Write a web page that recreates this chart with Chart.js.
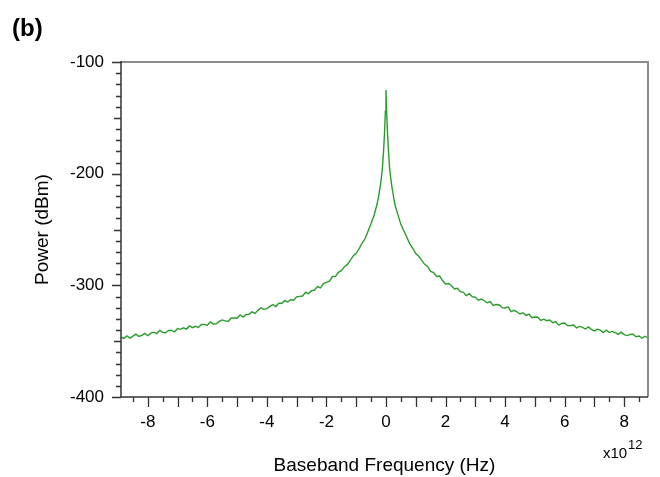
<!DOCTYPE html>
<html>
<head>
<meta charset="utf-8">
<script src="https://cdn.jsdelivr.net/npm/chart.js@4"></script>
<style>
  html, body { margin: 0; padding: 0; background: #fff; }
  #wrap { width: 660px; height: 477px; }
</style>
</head>
<body>
<div id="wrap"><canvas id="spectrum" width="660" height="477"></canvas></div>
<script>
// baseband frequency in units of 1e12 Hz
var freqLeft = [-8.9, -8.8, -8.7, -8.6, -8.5, -8.4, -8.3, -8.2, -8.1, -8.0,
  -7.9, -7.8, -7.7, -7.6, -7.5, -7.4, -7.3, -7.2, -7.1, -7.0,
  -6.9, -6.8, -6.7, -6.6, -6.5, -6.4, -6.3, -6.2, -6.1, -6.0,
  -5.9, -5.8, -5.7, -5.6, -5.5, -5.4, -5.3, -5.2, -5.1, -5.0,
  -4.9, -4.8, -4.7, -4.6, -4.5, -4.4, -4.3, -4.2, -4.1, -4.0,
  -3.9, -3.8, -3.7, -3.6, -3.5, -3.4, -3.3, -3.2, -3.1, -3.0,
  -2.9, -2.8, -2.7, -2.6, -2.5, -2.4, -2.3, -2.2, -2.1, -2.0,
  -1.9, -1.8, -1.7, -1.6, -1.5, -1.4, -1.3, -1.2, -1.1, -1.0,
  -0.9, -0.8, -0.7, -0.6, -0.5, -0.4, -0.3];
var powerLeft = [-346.5, -347.5, -345.2, -347.2, -345.5, -343.7, -345.8, -344.8, -343.1, -345.1,
  -342.8, -342.0, -343.2, -340.3, -342.1, -342.5, -340.3, -340.4, -341.6, -338.6,
  -339.4, -338.1, -339.2, -336.4, -337.9, -336.7, -337.8, -335.1, -335.1, -335.8,
  -332.8, -334.6, -334.4, -332.3, -331.0, -331.8, -332.4, -329.3, -329.2, -329.4,
  -326.5, -328.4, -326.1, -325.9, -323.8, -325.2, -322.4, -320.1, -321.5, -320.9,
  -318.9, -317.3, -319.0, -316.1, -316.0, -313.7, -314.9, -312.7, -313.4, -310.3,
  -309.9, -309.6, -306.2, -307.5, -304.8, -304.2, -301.1, -302.3, -298.4, -297.4,
  -296.2, -292.1, -292.2, -288.4, -286.8, -283.5, -281.5, -277.7, -273.7, -271.3,
  -267.1, -262.1, -258.1, -251.3, -244.7, -237.2, -227.4];

var freqPeak = [-0.25, -0.2, -0.16, -0.12, -0.08, -0.05, -0.02, 0, 0.02, 0.05, 0.08, 0.12, 0.16, 0.2, 0.25];
var powerPeak = [-220.5, -212.5, -205, -195, -179, -164, -144, -125, -143, -163, -178, -194.5, -204.5, -212, -220];

var freqRight = [0.3, 0.4, 0.5, 0.6, 0.7, 0.8, 0.9, 1.0,
  1.1, 1.2, 1.3, 1.4, 1.5, 1.6, 1.7, 1.8, 1.9, 2.0,
  2.1, 2.2, 2.3, 2.4, 2.5, 2.6, 2.7, 2.8, 2.9, 3.0,
  3.1, 3.2, 3.3, 3.4, 3.5, 3.6, 3.7, 3.8, 3.9, 4.0,
  4.1, 4.2, 4.3, 4.4, 4.5, 4.6, 4.7, 4.8, 4.9, 5.0,
  5.1, 5.2, 5.3, 5.4, 5.5, 5.6, 5.7, 5.8, 5.9, 6.0,
  6.1, 6.2, 6.3, 6.4, 6.5, 6.6, 6.7, 6.8, 6.9, 7.0,
  7.1, 7.2, 7.3, 7.4, 7.5, 7.6, 7.7, 7.8, 7.9, 8.0,
  8.1, 8.2, 8.3, 8.4, 8.5, 8.6, 8.7, 8.8];
var powerRight = [-227.6, -236.7, -245.4, -251.4, -257.0, -262.8, -266.9, -271.6,
  -274.0, -277.7, -281.2, -283.3, -287.5, -288.6, -292.0, -291.7, -295.7, -298.8,
  -298.4, -300.3, -303.2, -302.6, -305.7, -306.3, -309.2, -307.4, -310.2, -310.5,
  -313.3, -312.3, -313.8, -315.6, -314.5, -318.0, -317.2, -317.4, -320.0, -320.3,
  -319.3, -323.5, -322.4, -323.7, -325.7, -324.6, -326.9, -325.8, -329.0, -328.4,
  -328.6, -331.4, -330.3, -331.7, -331.0, -333.5, -332.5, -335.6, -334.1, -333.7,
  -336.0, -336.1, -335.5, -338.2, -336.8, -337.6, -339.1, -337.2, -339.5, -340.8,
  -339.4, -340.1, -342.3, -340.2, -342.3, -341.3, -342.4, -343.9, -341.9, -344.1,
  -345.0, -344.0, -343.7, -346.0, -345.4, -347.4, -345.6, -347.1];

var xTickLabels = [-8, -6, -4, -2, 0, 2, 4, 6, 8];
var yTickLabels = [-400, -300, -200, -100];

var freqs = freqLeft.concat(freqPeak, freqRight);
var power = powerLeft.concat(powerPeak, powerRight);
var points = freqs.map(function(f, i) { return { x: f, y: power[i] }; });

var FONT = "'Liberation Sans', Arial, Helvetica, sans-serif";

// frame, tick marks and the extra labels
var framePlugin = {
  id: 'frame',
  afterDraw: function(chart) {
    var ctx = chart.ctx;
    var a = chart.chartArea;
    var xs = chart.scales.x, ys = chart.scales.y;
    ctx.save();

    // top and right edges, grey
    ctx.strokeStyle = '#8c8c8c';
    ctx.lineWidth = 2;
    ctx.beginPath();
    ctx.moveTo(a.left, a.top);
    ctx.lineTo(a.right, a.top);
    ctx.lineTo(a.right, a.bottom);
    ctx.stroke();

    // left and bottom axes
    ctx.strokeStyle = '#333';
    ctx.lineWidth = 1.5;
    ctx.beginPath();
    ctx.moveTo(a.left, a.top - 1);
    ctx.lineTo(a.left, a.bottom);
    ctx.lineTo(a.right, a.bottom);
    ctx.stroke();

    ctx.lineWidth = 1.3;
    ctx.beginPath();
    for (var v = -400; v <= -100; v += 10) {
      var len = (v % 100 === 0) ? 9 : (v % 50 === 0 ? 7 : 5);
      var py = Math.round(ys.getPixelForValue(v)) + 0.5;
      ctx.moveTo(a.left - len, py);
      ctx.lineTo(a.left, py);
    }
    for (var k = -17; k <= 17; k++) {
      var fv = k / 2;
      var l2 = (k % 2 === 0) ? 10 : 5;
      var px = Math.round(xs.getPixelForValue(fv)) + 0.5;
      ctx.moveTo(px, a.bottom);
      ctx.lineTo(px, a.bottom + l2);
    }
    ctx.stroke();

    ctx.fillStyle = '#000';
    ctx.textBaseline = 'alphabetic';
    ctx.textAlign = 'left';
    ctx.font = 'bold 24px ' + FONT;
    ctx.fillText('(b)', 12, 36);

    ctx.font = '15px ' + FONT;
    ctx.fillText('x10', 603, 458);
    ctx.font = '13px ' + FONT;
    ctx.fillText('12', 628, 449);
    ctx.restore();
  }
};

var chart = new Chart(document.getElementById('spectrum'), {
  type: 'line',
  data: {
    datasets: [{
      data: points,
      borderColor: '#299c29',
      borderWidth: 1.4,
      pointRadius: 0,
      tension: 0,
      fill: false
    }]
  },
  options: {
    responsive: false,
    animation: false,
    events: [],
    layout: { padding: { left: 0, top: 62, right: 12, bottom: 0 } },
    plugins: {
      legend: { display: false },
      tooltip: { enabled: false }
    },
    scales: {
      x: {
        type: 'linear',
        min: -8.9,
        max: 8.8,
        grid: { display: false, drawTicks: false },
        border: { display: false },
        afterBuildTicks: function(axis) {
          axis.ticks = xTickLabels.map(function(v) { return { value: v }; });
        },
        afterFit: function(axis) { axis.height = 80; },
        ticks: {
          padding: 15,
          maxRotation: 0,
          autoSkip: false,
          color: '#000',
          font: { family: FONT, size: 17 },
          callback: function(v) { return String(v); }
        },
        title: {
          display: true,
          text: 'Baseband Frequency (Hz)',
          color: '#000',
          font: { family: FONT, size: 19 },
          padding: { top: 0, bottom: 0 }
        }
      },
      y: {
        type: 'linear',
        min: -400,
        max: -100,
        grid: { display: false, drawTicks: false },
        border: { display: false },
        afterBuildTicks: function(axis) {
          axis.ticks = yTickLabels.map(function(v) { return { value: v }; });
        },
        afterFit: function(axis) { axis.width = 121; },
        ticks: {
          padding: 17,
          color: '#000',
          font: { family: FONT, size: 17 },
          callback: function(v) { return String(v); }
        },
        title: {
          display: true,
          text: 'Power (dBm)',
          color: '#000',
          font: { family: FONT, size: 19 },
          padding: { top: 31, bottom: 0 }
        }
      }
    }
  },
  plugins: [framePlugin]
});
</script>
</body>
</html>
